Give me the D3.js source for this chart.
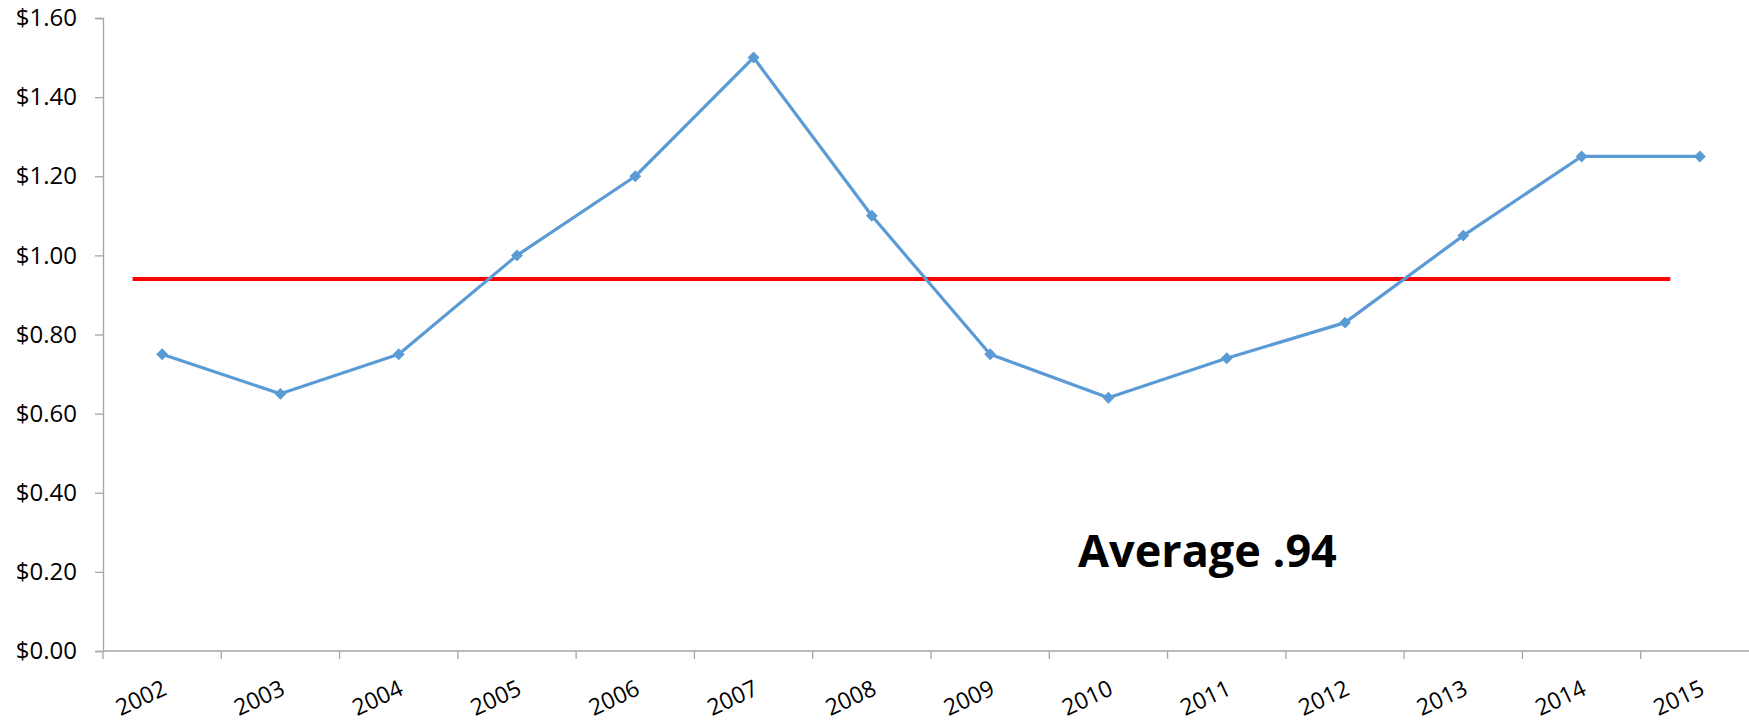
<!DOCTYPE html>
<html>
<head>
<meta charset="utf-8">
<script src="https://cdn.jsdelivr.net/npm/d3@7"></script>
<style>
  html, body { margin: 0; padding: 0; background: #fff; }
  svg { display: block; }
</style>
</head>
<body>
<svg id="chart" width="1749" height="721"></svg>
<script>
const years = ["2002","2003","2004","2005","2006","2007","2008","2009","2010","2011","2012","2013","2014","2015"];
const prices = [0.75, 0.65, 0.75, 1.00, 1.20, 1.50, 1.10, 0.75, 0.64, 0.74, 0.83, 1.05, 1.25, 1.25];
const averageValue = 0.94;
const averageLabel = "Average .94";
const yTicks = [0, 0.2, 0.4, 0.6, 0.8, 1.0, 1.2, 1.4, 1.6];

(function () {
const svg = d3.select("#chart");
const mLeft = 103, mTop = 18, mBottom = 651, mRight = 1759;

const x = d3.scaleBand().domain(years).range([mLeft, mRight]).paddingInner(0).paddingOuter(0);
const y = d3.scaleLinear().domain([0, 1.6]).range([mBottom, mTop]);
const bw = x.bandwidth();

const axisColor = "#a6a6a6";
const font = "'Open Sans', sans-serif";

// Y axis
const yAxis = svg.append("g").attr("transform", `translate(${mLeft},0)`)
  .call(d3.axisLeft(y).tickValues(yTicks).tickSize(8).tickPadding(18)
    .tickFormat(d => "$" + d3.format(".2f")(d)));
yAxis.select(".domain").attr("stroke", axisColor).attr("stroke-width", 1.3);
yAxis.selectAll(".tick line").attr("stroke", axisColor).attr("stroke-width", 1.3);
yAxis.selectAll(".tick text").attr("fill", "#000").style("font-family", font).style("font-size", "24px");

// X axis line + ticks at band boundaries
svg.append("line").attr("x1", mLeft).attr("x2", mRight).attr("y1", mBottom).attr("y2", mBottom)
  .attr("stroke", axisColor).attr("stroke-width", 1.3);
const boundaries = years.map(d => x(d)).concat([x(years[years.length-1]) + bw]);
svg.append("g").selectAll("line").data(boundaries).join("line")
  .attr("x1", d => d).attr("x2", d => d).attr("y1", mBottom).attr("y2", mBottom + 8)
  .attr("stroke", axisColor).attr("stroke-width", 1.3);

// X labels rotated
svg.append("g").selectAll("text").data(years).join("text")
  .attr("transform", d => `translate(${x(d) + bw/2 + 6},${mBottom + 43}) rotate(-25)`)
  .attr("text-anchor", "end")
  .style("font-family", font).style("font-size", "23px").attr("fill", "#000")
  .text(d => d);

// Average line
svg.append("line")
  .attr("x1", x(years[0]) + bw * 0.25)
  .attr("x2", x(years[years.length-1]) + bw * 0.25)
  .attr("y1", y(averageValue)).attr("y2", y(averageValue))
  .attr("stroke", "#ff0000").attr("stroke-width", 4);

// Series line
const line = d3.line().x((d, i) => x(years[i]) + bw/2).y(d => y(d));
svg.append("path").datum(prices).attr("d", line)
  .attr("fill", "none").attr("stroke", "#5b9bd5").attr("stroke-width", 3.2)
  .attr("stroke-linejoin", "round");

// Markers
svg.append("g").selectAll("path").data(prices).join("path")
  .attr("d", d3.symbol().type(d3.symbolDiamond2).size(90))
  .attr("transform", (d, i) => `translate(${x(years[i]) + bw/2},${y(d)})`)
  .attr("fill", "#5b9bd5");

// Annotation
svg.append("text").attr("x", 1078).attr("y", 567)
  .style("font-family", font).style("font-size", "45px").style("font-weight", "bold")
  .attr("fill", "#000").text(averageLabel);
})();
</script>
</body>
</html>
